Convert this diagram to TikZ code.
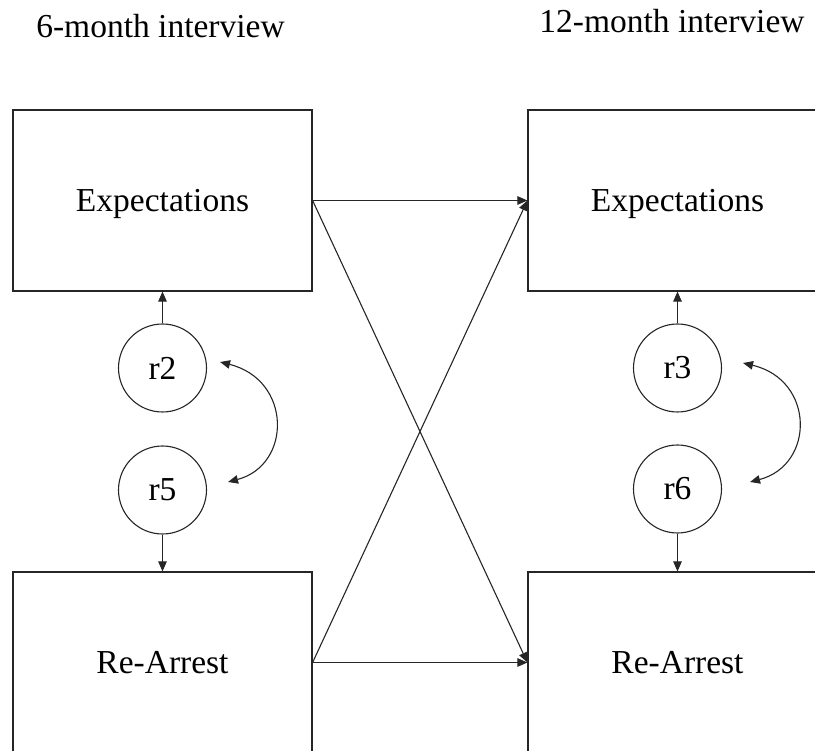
\documentclass[tikz,border=0pt]{standalone}
\usepackage{fontspec}
\setmainfont{Liberation Serif}
\usetikzlibrary{positioning, arrows.meta}

\begin{document}
\begin{tikzpicture}[x=1pt, y=-1pt, on grid, >={Triangle[length=10pt, width=8.5pt]},
    line width=1.1pt, draw=black!85,
    every node/.style={font=\fontsize{33.5}{40}\selectfont},
    box/.style={draw=black!85, line width=1.2pt, minimum width=299pt, minimum height=181pt, inner sep=0pt, text depth=0pt},
    resid/.style={circle, draw=black!85, line width=1.1pt, minimum size=88pt, inner sep=0pt}]
    \useasboundingbox (0,0) rectangle (815,751);
    \clip (0,0) rectangle (815,751);

    % Titles
    \node[anchor=base] (t6) at (160.5,38) {6-month interview};
    \node[anchor=base] (t12) at (672,33) {12-month interview};

    % Nodes
    \node[box] (e6) at (162.5,200.5) {Expectations};
    \node[box] (e12) [right=515pt of e6] {Expectations};
    \node[box] (a6) [below=462pt of e6] {Re-Arrest};
    \node[box] (a12) [right=515pt of a6] {Re-Arrest};

    % Residuals
    \node[resid] (r2) [below=167.5pt of e6] {r2};
    \node[resid] (r5) [below=122pt of r2] {r5};
    \node[resid] (r3) [below=167.5pt of e12] {r3};
    \node[resid] (r6) [below=121pt of r3] {r6};

    % Paths
    \path[->]
        (e6.east) edge (e12.west)
                  edge (a12.west)
        (a6.east) edge (e12.west)
                  edge (a12.west)
        (r2) edge (e6)
        (r5) edge (a6)
        (r3) edge (e12)
        (r6) edge (a12);

    % Covariances
    \draw[<->] ([shift={(13,-6)}]r2.east) .. controls +(72,18) and +(64,-17) .. ([shift={(21,-8)}]r5.east);
    \draw[<->] ([shift={(21,-5)}]r3.east) .. controls +(72,17) and +(65,-17) .. ([shift={(28,-7)}]r6.east);
\end{tikzpicture}
\end{document}
